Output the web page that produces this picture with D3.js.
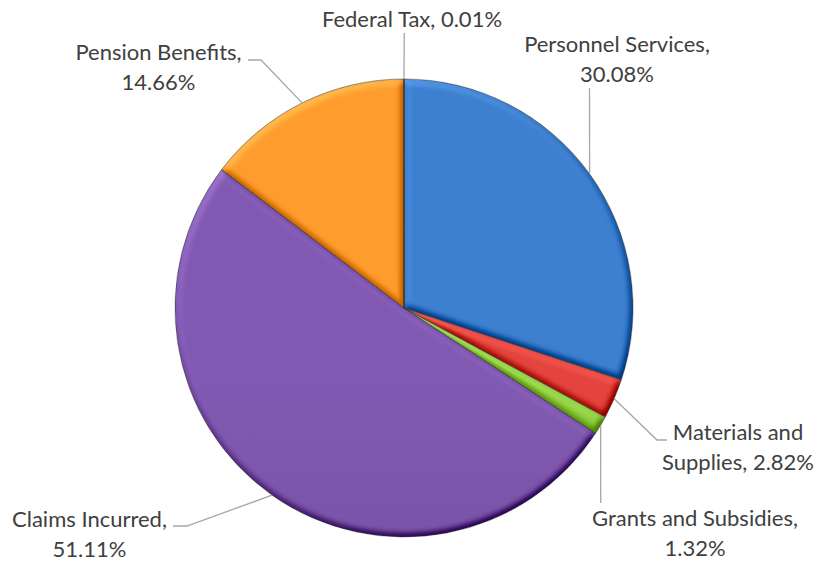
<!DOCTYPE html>
<html>
<head>
<meta charset="utf-8">
<script src="https://cdn.jsdelivr.net/npm/d3@7"></script>
<style>
  html, body { margin: 0; padding: 0; background: #fff; }
  svg { display: block; }
  .label { font-family: Lato, "Open Sans", sans-serif; font-size: 22px; fill: #404040; }
</style>
</head>
<body>
<svg id="chart" width="817" height="561"></svg>
<script>
// Expense categories, clockwise from 12 o'clock
const categories = ["Personnel Services", "Materials and Supplies", "Grants and Subsidies",
                    "Claims Incurred", "Pension Benefits", "Federal Tax"];
// Share of total expenses, percent
const values = [30.08, 2.82, 1.32, 51.11, 14.66, 0.01];
const colors = ["#3a77c2", "#d43f3a", "#8ac33f", "#7953a6", "#f4912b", "#4bacc6"];

// Label placement: centre x, first baseline, words on the first line, leader elbow points
const labelLayout = {
  "Personnel Services":     { x: 617,   y: 52,  words: 2, leader: [[589.5, 88]] },
  "Materials and Supplies": { x: 738,   y: 440, words: 2, leader: [[657, 440], [667, 440]] },
  "Grants and Subsidies":   { x: 695,   y: 526, words: 3, leader: [[600.7, 503]] },
  "Claims Incurred":        { x: 89.5,  y: 527, words: 2, leader: [[187, 526], [173, 526]] },
  "Pension Benefits":       { x: 158.5, y: 60,  words: 2, leader: [[261, 60], [248, 60]] },
  "Federal Tax":            { x: 412,   y: 27,  words: 3, leader: [[404.3, 33]] }
};

const cx = 404, cy = 308, r = 229, lineGap = 29.5;

const svg = d3.select("#chart");
const defs = svg.append("defs");

// Soft bevel: blurred alpha used as a height map, lit from the upper left
const bevel = defs.append("filter").attr("id", "bevel")
  .attr("x", "-10%").attr("y", "-10%").attr("width", "120%").attr("height", "120%")
  .attr("color-interpolation-filters", "sRGB");
bevel.append("feGaussianBlur").attr("in", "SourceAlpha").attr("stdDeviation", 3.5).attr("result", "blur");
bevel.append("feDiffuseLighting").attr("in", "blur").attr("surfaceScale", 4)
  .attr("diffuseConstant", 1).attr("lighting-color", "#fff").attr("result", "light")
  .append("feDistantLight").attr("azimuth", 240).attr("elevation", 55);
bevel.append("feComposite").attr("in", "SourceGraphic").attr("in2", "light")
  .attr("operator", "arithmetic").attr("k1", 0).attr("k2", 1).attr("k3", 0.55).attr("k4", -0.45)
  .attr("result", "lit");
bevel.append("feComposite").attr("in", "lit").attr("in2", "SourceAlpha").attr("operator", "in");

// Vertical shading per slice colour
colors.forEach((c, i) => {
  const g = defs.append("linearGradient").attr("id", "grad" + i)
    .attr("gradientUnits", "userSpaceOnUse")
    .attr("x1", 0).attr("x2", 0).attr("y1", cy - r).attr("y2", cy + r);
  g.append("stop").attr("offset", 0).attr("stop-color", d3.color(c).brighter(0.2));
  g.append("stop").attr("offset", 1).attr("stop-color", d3.color(c).darker(0.35));
});

const pie = d3.pie().sort(null).value(d => d)(values);
const arc = d3.arc().innerRadius(0).outerRadius(r);

const g = svg.append("g").attr("transform", `translate(${cx},${cy})`);

g.selectAll("path.slice").data(pie).join("path")
  .attr("class", "slice")
  .attr("d", arc)
  .attr("fill", (d, i) => `url(#grad${i})`)
  .attr("filter", "url(#bevel)");

g.selectAll("path.edge").data(pie).join("path")
  .attr("class", "edge")
  .attr("d", arc)
  .attr("fill", "none")
  .attr("stroke", "#2e2e2e")
  .attr("stroke-opacity", 0.55)
  .attr("stroke-width", 0.9);

// Leader lines from each slice's outer mid-point to its label
const line = d3.line();
pie.forEach((d, i) => {
  const lay = labelLayout[categories[i]];
  const mid = (d.startAngle + d.endAngle) / 2;
  const start = [cx + r * Math.sin(mid), cy - r * Math.cos(mid)];
  svg.append("path")
    .attr("d", line([start, ...lay.leader]))
    .attr("fill", "none")
    .attr("stroke", "#a6a6a6")
    .attr("stroke-width", 1.3);
});

// Data labels: "Category, value%"
categories.forEach((cat, i) => {
  const lay = labelLayout[cat];
  const words = `${cat}, ${values[i].toFixed(2)}%`.split(" ");
  const lines = [words.slice(0, lay.words).join(" ")];
  if (words.length > lay.words) lines.push(words.slice(lay.words).join(" "));
  const t = svg.append("text").attr("class", "label").attr("text-anchor", "middle");
  lines.forEach((s, k) => {
    t.append("tspan").attr("x", lay.x).attr("y", lay.y + k * lineGap).text(s);
  });
});
</script>
</body>
</html>
